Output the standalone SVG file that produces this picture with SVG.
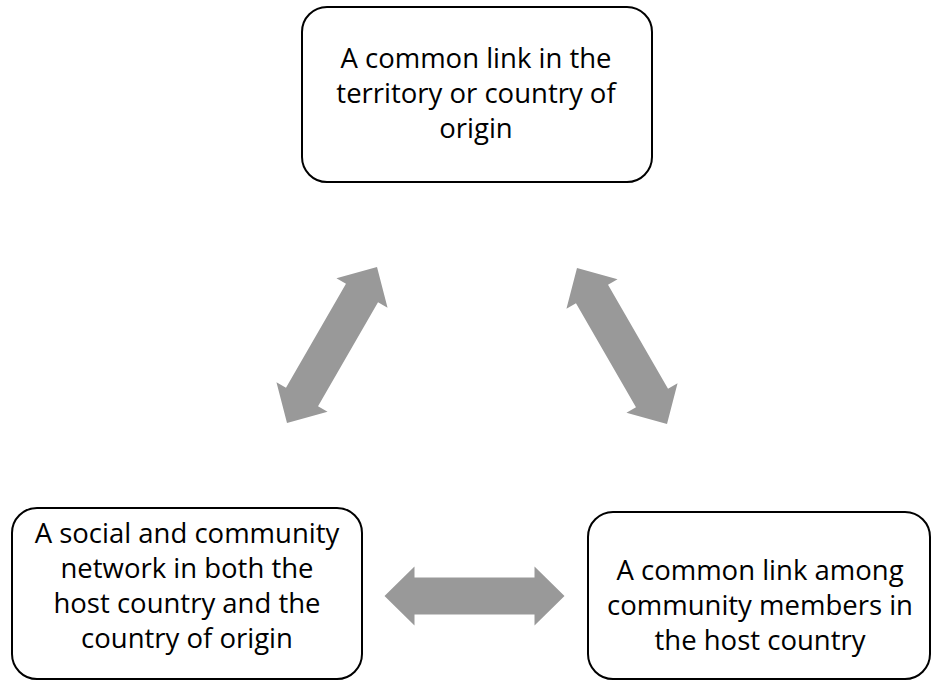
<svg xmlns="http://www.w3.org/2000/svg" width="934" height="681" viewBox="0 0 934 681">
<style>
.box{fill:#fff;stroke:#000;stroke-width:2}
.t{font-family:"Open Sans","Liberation Sans",sans-serif;font-size:27.5px;fill:#000;text-anchor:middle}
.arr{fill:#999999}
</style>
<defs>
<path id="dbl" d="M -90 0 L -60 -29.5 L -60 -18.5 L 60 -18.5 L 60 -29.5 L 90 0 L 60 29.5 L 60 18.5 L -60 18.5 L -60 29.5 Z"/>
</defs>
<rect width="934" height="681" fill="#fff"/>
<g id="connectors">
<use href="#dbl" class="arr" transform="translate(332,345) rotate(-60)"/>
<use href="#dbl" class="arr" transform="translate(622,346) rotate(60)"/>
<use href="#dbl" class="arr" transform="translate(474.5,596)"/>
</g>
<g id="node-origin">
<rect class="box" x="302" y="7" width="350" height="175" rx="25"/>
<text class="t" x="476" y="68">A common link in the</text>
<text class="t" x="476" y="103">territory or country of</text>
<text class="t" x="476" y="138">origin</text>
</g>
<g id="node-network">
<rect class="box" x="12" y="508" width="350" height="171" rx="25"/>
<text class="t" x="187" y="543">A social and community</text>
<text class="t" x="187" y="578">network in both the</text>
<text class="t" x="187" y="613">host country and the</text>
<text class="t" x="187" y="648">country of origin</text>
</g>
<g id="node-host">
<rect class="box" x="588" y="512" width="342" height="167" rx="25"/>
<text class="t" x="760" y="580">A common link among</text>
<text class="t" x="760" y="615">community members in</text>
<text class="t" x="760" y="650">the host country</text>
</g>
</svg>
